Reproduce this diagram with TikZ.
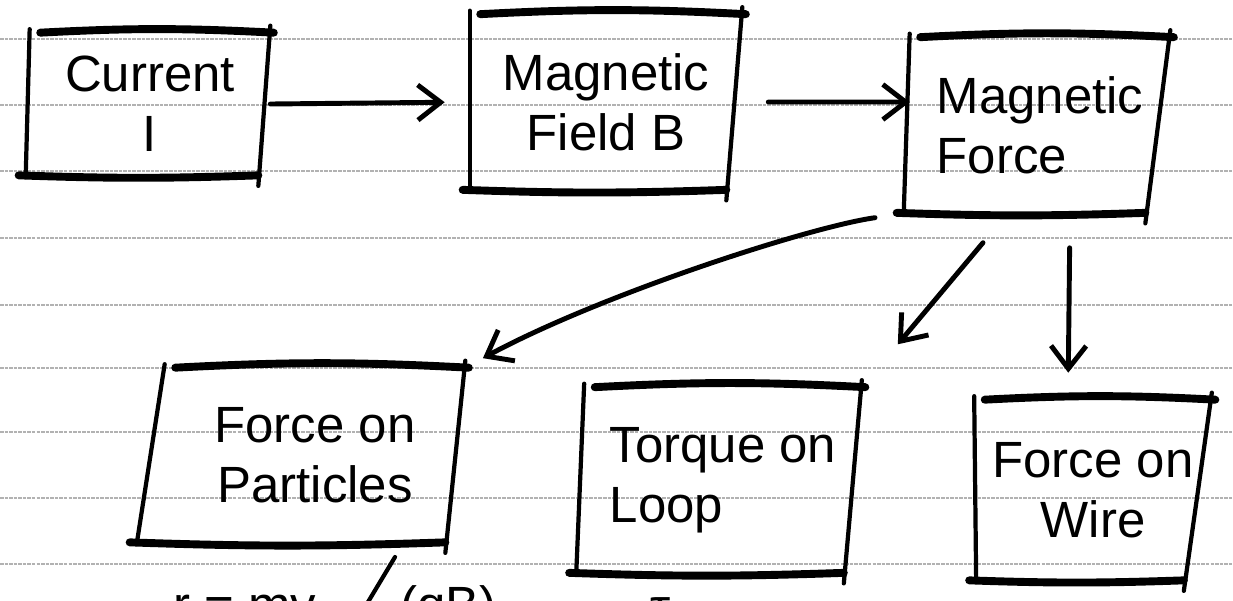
\documentclass[tikz,border=0pt]{standalone}
\usepackage{fontspec}
\setmainfont{Liberation Sans}
\usetikzlibrary{arrows.meta,calc}
\tikzset{
  ruled/.style={gray!60, line width=0.7pt, dash pattern=on 2pt off 0.6pt},
  boxn/.style={inner sep=0pt, align=center, font=\fontsize{29}{34}\selectfont},
  sidestroke/.style={line width=2.4pt, line cap=round},
  capstroke/.style={line width=4.5pt, line cap=round},
  arr/.style={line width=2.8pt, line cap=round, -{Straight Barb[length=13pt,width=20pt]}},
  formula/.style={font=\fontsize{29}{34}\selectfont, inner sep=0pt, anchor=base west},
}
\newcommand\handbox[3]{%
  \draw[sidestroke] ([yshift=2pt]#1.north west) -- ([xshift=#2*0.02cm,yshift=-1pt]#1.south west);
  \draw[sidestroke] ([yshift=4pt]#1.north east) -- ([xshift=#3*0.02cm,yshift=-6pt]#1.south east);
  \draw[capstroke] ([xshift=6pt]#1.north west) to[bend left=3] ([xshift=2pt]#1.north east);
  \draw[capstroke] ([xshift=#2*0.02cm-4pt]#1.south west) to[bend right=2] ([xshift=#3*0.02cm]#1.south east);
}
\begin{document}
\begin{tikzpicture}[x=0.02cm,y=-0.02cm]
\useasboundingbox[fill=white] (0,0) rectangle (1233,600);
\foreach \yy in {39,105,171,238,305,368,432,498,564}
  \draw[ruled] (0,\yy) -- (1233,\yy);

\node[boxn, minimum width=4.8cm,  minimum height=2.84cm] (cur) at (150,104)  {Current\\I};
\node[boxn, minimum width=5.44cm, minimum height=3.5cm]  (fld) at (606,102)  {Magnetic\\Field B};
\node[boxn, minimum width=5.2cm,  minimum height=3.5cm, align=left] (frc) at (1040,125) {Magnetic\\Force\phantom{ic}};
\node[boxn, minimum width=6.0cm,  minimum height=3.48cm] (par) at (315,455)  {Force on\\Particles};
\node[boxn, minimum width=5.54cm, minimum height=3.7cm, align=left]  (trq) at (723,480)  {Torque on\\Loop};
\node[boxn, minimum width=4.74cm, minimum height=3.6cm]  (wir) at (1093,490) {Force on\\Wire};

\handbox{cur}{-4}{-12}
\handbox{fld}{0}{-16}
\handbox{frc}{-6}{-25}
\handbox{par}{-28}{-20}
\handbox{trq}{-8}{-18}
\handbox{wir}{2}{-28}

\draw[arr, shorten >=0.5cm] (cur.east) -- (fld.west);
\draw[arr, shorten <=0.52cm] (fld.east) -- (frc.170);
\draw[arr, shorten <=0.7cm, shorten >=0.4cm] (frc.south west) .. controls +(-100,14) and +(135,-73) .. (par.north east);
\draw[arr, shorten <=0.78cm, shorten >=1.12cm] (frc.250) -- (trq.north east);
\draw[arr, shorten <=0.7cm, shorten >=0.54cm] ([xshift=0.6cm]frc.south) -- ([xshift=-0.5cm]wir.north);

\node[formula] (fr) at (173,622) {r = mv};
\node[formula] (fq) at (400,622) {(qB)};
\node[formula] (ft) at (650,624) {τ};
\coordinate (slashtop) at (395,557);
\draw[sidestroke] (slashtop) -- ++(-27,45);
\end{tikzpicture}
\end{document}
